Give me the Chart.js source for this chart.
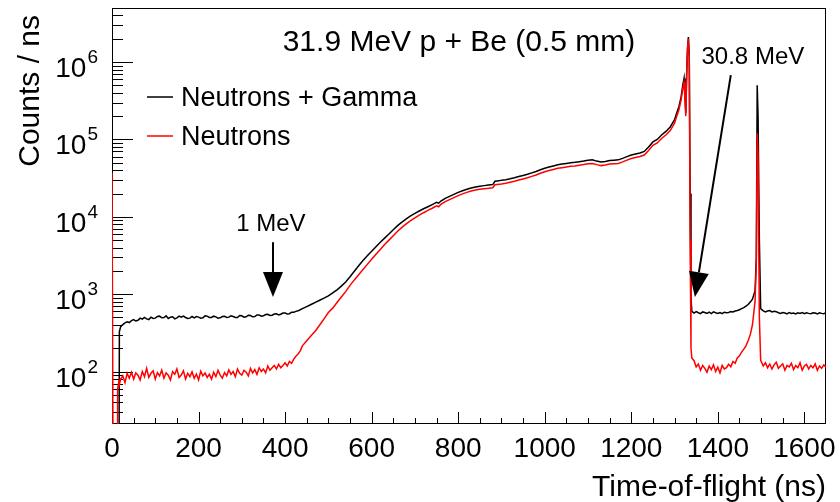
<!DOCTYPE html>
<html>
<head>
<meta charset="utf-8">
<script src="https://cdn.jsdelivr.net/npm/chart.js@4/dist/chart.umd.min.js"></script>
<style>
  body { margin: 0; background: #fff; }
  canvas { display: block; }
</style>
</head>
<body>
<canvas id="tof" width="840" height="502"></canvas>
<script>
// --- Data ---
const tof = [
  0, 2, 3, 12, 13, 16, 17, 20, 25, 30,
  35, 40, 45, 50, 55, 60, 65, 70, 75, 80,
  85, 90, 95, 100, 105, 110, 115, 120, 125, 130,
  135, 140, 145, 150, 155, 160, 165, 170, 175, 180,
  185, 190, 195, 200, 205, 210, 215, 220, 225, 230,
  235, 240, 245, 250, 255, 260, 265, 270, 275, 280,
  285, 290, 295, 300, 305, 310, 315, 320, 325, 330,
  335, 340, 345, 350, 355, 360, 365, 370, 375, 380,
  385, 390, 395, 400, 405, 410, 415, 420, 425, 430,
  435, 440, 450, 460, 470, 480, 490, 500, 510, 520,
  530, 540, 550, 560, 570, 580, 590, 600, 610, 620,
  630, 640, 650, 660, 670, 680, 690, 700, 710, 720,
  730, 740, 750, 755, 760, 770, 780, 790, 800, 810,
  820, 830, 840, 850, 860, 870, 880, 885, 890, 900,
  910, 920, 930, 940, 950, 960, 970, 980, 990, 1000,
  1010, 1020, 1030, 1040, 1050, 1060, 1070, 1080, 1090, 1100,
  1110, 1120, 1130, 1140, 1150, 1160, 1170, 1180, 1190, 1200,
  1210, 1220, 1230, 1240, 1250, 1260, 1270, 1280, 1290, 1300,
  1305, 1310, 1315, 1319, 1322, 1324, 1326, 1328, 1330, 1332,
  1334, 1336, 1338, 1340, 1345, 1350, 1355, 1360, 1365, 1370,
  1375, 1380, 1385, 1390, 1395, 1400, 1405, 1410, 1415, 1420,
  1425, 1430, 1435, 1440, 1445, 1450, 1455, 1460, 1465, 1470,
  1475, 1480, 1486, 1489, 1491, 1493, 1496, 1499, 1505, 1510,
  1515, 1520, 1525, 1530, 1535, 1540, 1545, 1550, 1555, 1560,
  1565, 1570, 1575, 1580, 1585, 1590, 1595, 1600, 1605, 1610,
  1615, 1620, 1625, 1630, 1635, 1640, 1645, 1650
];

const neutronsGamma = [
  1, 1, 1, 1, 1, 1, 330, 380, 405, 425,
  440, 430, 455, 470, 450, 460, 490, 475, 500, 480,
  470, 505, 485, 490, 515, 520, 495, 500, 525, 485,
  505, 510, 480, 495, 520, 505, 520, 500, 485, 490,
  515, 495, 515, 505, 490, 495, 525, 520, 500, 500,
  520, 510, 490, 495, 515, 520, 500, 505, 525, 515,
  500, 500, 530, 525, 505, 510, 535, 530, 510, 515,
  540, 540, 520, 525, 545, 550, 530, 535, 555, 560,
  540, 550, 570, 570, 555, 560, 585, 585, 600, 610,
  630, 650, 690, 735, 785, 835, 890, 950, 1040, 1140,
  1270, 1440, 1680, 1980, 2330, 2720, 3130, 3580, 4100, 4680,
  5300, 6000, 6800, 7700, 8550, 9400, 10300, 11100, 11900, 12700,
  13500, 14400, 15400, 15000, 16000, 17300, 18400, 19500, 20700, 21700,
  22700, 23600, 24300, 24900, 25300, 25700, 26100, 28800, 29100, 29600,
  30200, 31000, 32000, 33200, 34300, 35500, 37000, 38500, 40500, 42500,
  44000, 45500, 47000, 48000, 49000, 50000, 50600, 51500, 52500, 54000,
  54500, 52500, 51000, 52000, 53500, 54000, 54500, 57000, 60000, 63000,
  65000, 67000, 70000, 80000, 93000, 100000, 114000, 127000, 145000, 180000,
  220000, 265000, 350000, 500000, 620000, 380000, 220000, 700000, 1500000, 2100000,
  1200000, 20000, 900, 600, 570, 595, 575, 560, 590, 580,
  565, 585, 560, 590, 575, 565, 580, 560, 585, 575,
  580, 595, 590, 605, 615, 630, 650, 670, 700, 735,
  790, 860, 1100, 3000, 500000, 200000, 5000, 650, 610, 590,
  605, 615, 590, 600, 595, 575, 565, 580, 570, 555,
  580, 565, 570, 555, 575, 565, 580, 560, 575, 565,
  560, 575, 570, 555, 575, 565, 560, 575
];

const neutrons = [
  37000, 37000, 1, 1, 60, 75, 68, 80, 88, 72,
  95, 82, 98, 80, 96, 90, 78, 100, 86, 110,
  84, 95, 102, 80, 97, 88, 104, 82, 96, 90,
  78, 100, 92, 108, 84, 90, 102, 80, 95, 86,
  99, 82, 93, 78, 101, 88, 96, 84, 92, 80,
  98, 86, 104, 90, 82, 97, 88, 105, 92, 100,
  86, 108, 95, 90, 104, 98, 88, 110, 96, 106,
  92, 112, 100, 108, 96, 118, 104, 112, 120, 108,
  124, 112, 120, 130, 118, 135, 128, 145, 158, 168,
  185, 215, 250, 290, 335, 400, 480, 580, 660, 780,
  920, 1080, 1300, 1530, 1780, 2080, 2430, 2830, 3280, 3780,
  4380, 5000, 5700, 6500, 7300, 8100, 8900, 9700, 10500, 11300,
  12100, 12900, 13900, 13500, 14500, 15700, 16700, 17700, 18800, 19800,
  20700, 21500, 22200, 22700, 23100, 23400, 23800, 26000, 26200, 26600,
  27100, 27900, 28800, 29900, 30900, 32000, 33300, 34700, 36500, 38300,
  39600, 41000, 42300, 43200, 44100, 45000, 45500, 46400, 47300, 48600,
  49000, 47300, 45900, 46800, 48100, 48600, 49000, 51300, 54000, 56700,
  58500, 60300, 63000, 72000, 84000, 90000, 103000, 114000, 130000, 162000,
  200000, 240000, 320000, 450000, 550000, 330000, 200000, 650000, 1500000, 2000000,
  1100000, 5000, 200, 150, 138, 115, 125, 104, 120, 110,
  98, 118, 106, 122, 100, 114, 96, 120, 108, 112,
  124, 115, 135, 128, 150, 160, 178, 195, 215, 250,
  300, 400, 800, 2500, 120000, 60000, 500, 140, 118, 130,
  112, 125, 108, 122, 132, 110, 118, 126, 104, 120,
  115, 128, 106, 120, 112, 130, 104, 118, 124, 108,
  120, 112, 126, 104, 118, 110, 122, 114
];

const xTicks = [0, 200, 400, 600, 800, 1000, 1200, 1400, 1600];
const yDecades = [2, 3, 4, 5, 6];

// --- Style ---
const FONT = '"Liberation Sans", Arial, sans-serif';
const RED = '#ff0000';
const BLACK = '#000000';

const toPoints = (vals) => tof.map((t, i) => ({ x: t, y: vals[i] }));

function arrow(ctx, x0, y0, x1, y1) {
  const ang = Math.atan2(y1 - y0, x1 - x0);
  const len = 25, half = 10;
  const bx = x1 - len * Math.cos(ang), by = y1 - len * Math.sin(ang);
  ctx.lineWidth = 2;
  ctx.beginPath();
  ctx.moveTo(x0, y0);
  ctx.lineTo(bx, by);
  ctx.stroke();
  ctx.beginPath();
  ctx.moveTo(x1, y1);
  ctx.lineTo(bx + half * Math.sin(ang), by - half * Math.cos(ang));
  ctx.lineTo(bx - half * Math.sin(ang), by + half * Math.cos(ang));
  ctx.closePath();
  ctx.fill();
}

// ROOT-style frame, inner ticks, labels and annotations
const rootDecor = {
  id: 'rootDecor',
  beforeDatasetsDraw(chart) {
    const { ctx, chartArea: a, scales: { x, y } } = chart;
    ctx.save();
    ctx.strokeStyle = BLACK;
    ctx.lineWidth = 1;
    ctx.strokeRect(a.left + 0.5, a.top + 0.5, a.right - a.left - 1, a.bottom - a.top - 1);
    ctx.beginPath();
    for (let t = 50; t < x.max; t += 50) {
      const px = Math.round(x.getPixelForValue(t)) + 0.5;
      ctx.moveTo(px, a.bottom);
      ctx.lineTo(px, a.bottom - (t % 200 === 0 ? 12 : 6));
    }
    for (let e = 1; e <= 6; e++) {
      for (let m = 1; m <= 9; m++) {
        const v = m * Math.pow(10, e);
        if (v < y.min || v > y.max) continue;
        const py = Math.round(y.getPixelForValue(v)) + 0.5;
        ctx.moveTo(a.left, py);
        ctx.lineTo(a.left + (m === 1 ? 21 : 11), py);
      }
    }
    ctx.stroke();
    ctx.restore();
  },
  afterDraw(chart) {
    const { ctx, chartArea: a, scales: { x, y } } = chart;
    ctx.save();
    ctx.fillStyle = BLACK;
    ctx.strokeStyle = BLACK;

    // x tick labels
    ctx.font = `28px ${FONT}`;
    ctx.textAlign = 'center';
    ctx.textBaseline = 'alphabetic';
    xTicks.forEach(t => ctx.fillText(String(t), x.getPixelForValue(t), a.bottom + 33));

    // y tick labels 10^n
    yDecades.forEach(e => {
      const py = y.getPixelForValue(Math.pow(10, e));
      ctx.font = `19px ${FONT}`;
      ctx.textAlign = 'right';
      ctx.fillText(String(e), a.left - 14, py + 1);
      const w = ctx.measureText(String(e)).width;
      ctx.font = `28px ${FONT}`;
      ctx.fillText('10', a.left - 14 - w - 1, py + 15);
    });

    // axis titles
    ctx.font = `30px ${FONT}`;
    ctx.textAlign = 'right';
    ctx.fillText('Time-of-flight (ns)', a.right, 496);
    ctx.save();
    ctx.translate(39, a.top + 7);
    ctx.rotate(-Math.PI / 2);
    ctx.fillText('Counts / ns', 0, 0);
    ctx.restore();

    // title
    ctx.textAlign = 'center';
    ctx.fillText('31.9 MeV p + Be (0.5 mm)', 459, 51);

    // legend
    ctx.font = `27px ${FONT}`;
    ctx.textAlign = 'left';
    [[BLACK, 'Neutrons + Gamma', 97], [RED, 'Neutrons', 136]].forEach(([c, label, ly]) => {
      ctx.strokeStyle = c;
      ctx.lineWidth = 1.5;
      ctx.beginPath();
      ctx.moveTo(147, ly);
      ctx.lineTo(173, ly);
      ctx.stroke();
      ctx.fillText(label, 181, ly + 9);
    });

    // annotations (placed in data coordinates)
    ctx.strokeStyle = BLACK;
    ctx.font = `24px ${FONT}`;
    ctx.textAlign = 'center';
    ctx.fillText('1 MeV', x.getPixelForValue(367), y.getPixelForValue(6500));
    arrow(ctx, x.getPixelForValue(372), y.getPixelForValue(4700),
               x.getPixelForValue(372), y.getPixelForValue(920));
    ctx.fillText('30.8 MeV', x.getPixelForValue(1481), y.getPixelForValue(940000));
    arrow(ctx, x.getPixelForValue(1430), y.getPixelForValue(680000),
               x.getPixelForValue(1347), y.getPixelForValue(920));
    ctx.restore();
  }
};

new Chart(document.getElementById('tof'), {
  type: 'line',
  data: {
    datasets: [
      { label: 'Neutrons', data: toPoints(neutrons), borderColor: RED, borderWidth: 1.5 },
      { label: 'Neutrons + Gamma', data: toPoints(neutronsGamma), borderColor: BLACK, borderWidth: 1.5 }
    ]
  },
  options: {
    responsive: false,
    animation: false,
    devicePixelRatio: 1,
    layout: { padding: { left: 112, top: 8, right: 14, bottom: 78 } },
    elements: { point: { radius: 0 }, line: { tension: 0, fill: false } },
    plugins: { legend: { display: false }, tooltip: { enabled: false } },
    scales: {
      x: { type: 'linear', min: 0, max: 1650, display: false },
      y: { type: 'logarithmic', min: 21, max: 5e6, display: false }
    }
  },
  plugins: [rootDecor]
});
</script>
</body>
</html>
